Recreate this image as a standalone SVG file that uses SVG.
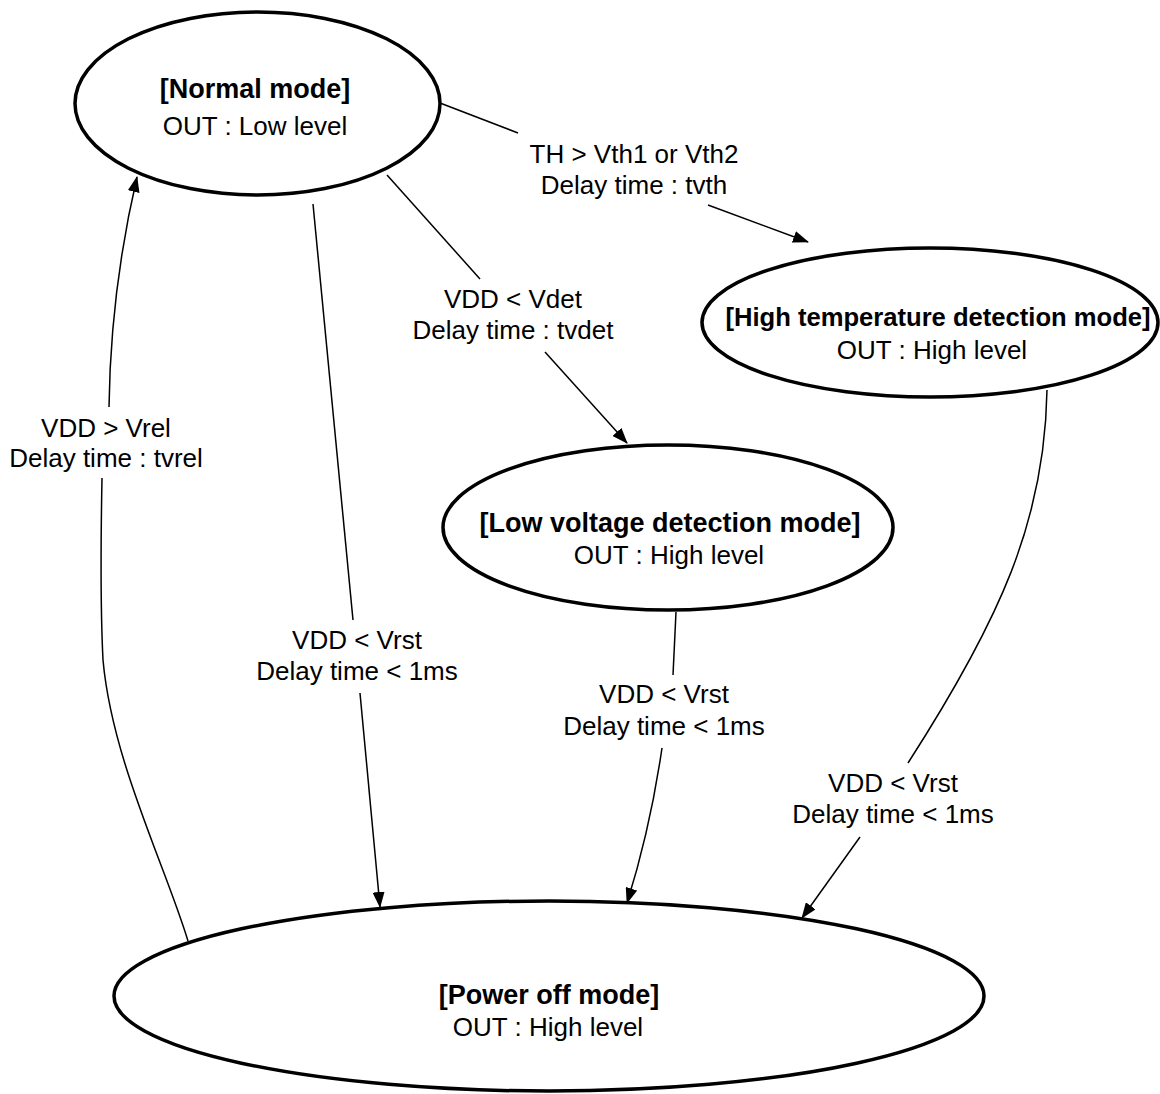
<svg xmlns="http://www.w3.org/2000/svg" width="1160" height="1094" viewBox="0 0 1160 1094">
<style>
.node{fill:#fff;stroke:#000;stroke-width:3.5}
.title{font-family:"Liberation Sans",Arial,Helvetica,sans-serif;font-size:27px;font-weight:bold;fill:#000;text-anchor:middle}
.sub{font-family:"Liberation Sans",Arial,Helvetica,sans-serif;font-size:26px;fill:#000;text-anchor:middle}
.lbl{font-family:"Liberation Sans",Arial,Helvetica,sans-serif;font-size:26px;fill:#000;text-anchor:middle}
.edge{fill:none;stroke:#000;stroke-width:1.5}
</style>
<defs>
<marker id="arr" viewBox="0 0 16 12" refX="15" refY="6" markerWidth="16" markerHeight="12" markerUnits="userSpaceOnUse" orient="auto">
<path d="M0,0 L16,6 L0,12 z" fill="#000"/>
</marker>
</defs>
<rect width="1160" height="1094" fill="#fff"/>
<g id="connectors">
<g id="e-normal-high">
<path class="edge" d="M440,103 L518,133"/>
<path class="edge" d="M708,205 L808,242" marker-end="url(#arr)"/>
<text class="lbl" x="634" y="163">TH &gt; Vth1 or Vth2</text>
<text class="lbl" x="634" y="194">Delay time : tvth</text>
</g>
<g id="e-normal-low">
<path class="edge" d="M387,175 L480,279"/>
<path class="edge" d="M545,352 L627,443" marker-end="url(#arr)"/>
<text class="lbl" x="513" y="308">VDD &lt; Vdet</text>
<text class="lbl" x="513" y="339">Delay time : tvdet</text>
</g>
<g id="e-normal-power">
<path class="edge" d="M313,204 L353,620"/>
<path class="edge" d="M360,693 L380,907" marker-end="url(#arr)"/>
<text class="lbl" x="357" y="649">VDD &lt; Vrst</text>
<text class="lbl" x="357" y="680">Delay time &lt; 1ms</text>
</g>
<g id="e-low-power">
<path class="edge" d="M676,612 L673,675"/>
<path class="edge" d="M662,748 Q650,830 627,903" marker-end="url(#arr)"/>
<text class="lbl" x="664" y="703">VDD &lt; Vrst</text>
<text class="lbl" x="664" y="735">Delay time &lt; 1ms</text>
</g>
<g id="e-high-power">
<path class="edge" d="M1047,390 C1045,520 1000,620 908,763"/>
<path class="edge" d="M860,837 L802,918" marker-end="url(#arr)"/>
<text class="lbl" x="893" y="792">VDD &lt; Vrst</text>
<text class="lbl" x="893" y="823">Delay time &lt; 1ms</text>
</g>
<g id="e-power-normal">
<path class="edge" d="M188,941 C165,865 112,760 103,660 C100,600 101,530 102,478"/>
<path class="edge" d="M109,407 C110,330 120,250 137,177" marker-end="url(#arr)"/>
<text class="lbl" x="106" y="437">VDD &gt; Vrel</text>
<text class="lbl" x="106" y="467">Delay time : tvrel</text>
</g>
</g>
<g id="node-normal">
<ellipse class="node" cx="257.5" cy="103.5" rx="182.5" ry="91.5"/>
<text class="title" x="255" y="98">[Normal mode]</text>
<text class="sub" x="255" y="135">OUT : Low level</text>
</g>
<g id="node-high">
<ellipse class="node" cx="930" cy="322.5" rx="228" ry="74.5"/>
<text class="title" x="938" y="326" style="font-size:25.6px">[High temperature detection mode]</text>
<text class="sub" x="932" y="359">OUT : High level</text>
</g>
<g id="node-low">
<ellipse class="node" cx="668" cy="527.5" rx="225" ry="82.5"/>
<text class="title" x="670" y="532">[Low voltage detection mode]</text>
<text class="sub" x="669" y="564">OUT : High level</text>
</g>
<g id="node-power">
<ellipse class="node" cx="549" cy="996" rx="435" ry="95"/>
<text class="title" x="549" y="1004">[Power off mode]</text>
<text class="sub" x="548" y="1036">OUT : High level</text>
</g>
</svg>
